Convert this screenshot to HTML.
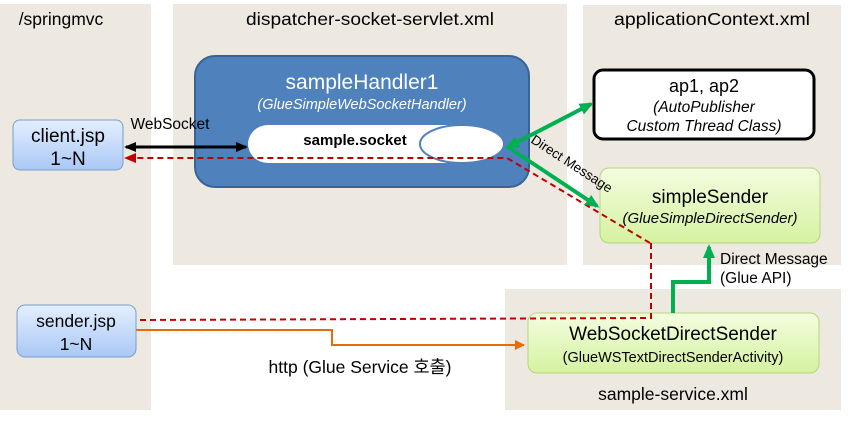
<!DOCTYPE html>
<html><head><meta charset="utf-8"><style>
body{margin:0;background:#fff;width:854px;height:419px;overflow:hidden}
svg text{font-family:"Liberation Sans","Noto Sans CJK KR",sans-serif}
</style></head><body>
<svg width="854" height="419" viewBox="0 0 854 419" xmlns="http://www.w3.org/2000/svg">
<defs>
<linearGradient id="bl" x1="0" y1="0" x2="0" y2="1"><stop offset="0" stop-color="#e4efff"/><stop offset="1" stop-color="#a9c8f5"/></linearGradient>
<linearGradient id="gr" x1="0" y1="0" x2="0" y2="1"><stop offset="0" stop-color="#f3fde0"/><stop offset="1" stop-color="#d5f2a0"/></linearGradient>
<marker id="ab" markerWidth="12" markerHeight="10" refX="10" refY="5" orient="auto-start-reverse" markerUnits="userSpaceOnUse"><path d="M0,0 L12,5 L0,10 z" fill="#000"/></marker>
<marker id="ag" markerWidth="14" markerHeight="12" refX="11" refY="6" orient="auto-start-reverse" markerUnits="userSpaceOnUse"><path d="M0,0 L14,6 L0,12 z" fill="#00b050"/></marker>
<marker id="ar" markerWidth="12" markerHeight="10" refX="10" refY="5" orient="auto" markerUnits="userSpaceOnUse"><path d="M0,0 L12,5 L0,10 z" fill="#c00000"/></marker>
<marker id="ao" markerWidth="10" markerHeight="10" refX="9" refY="5" orient="auto" markerUnits="userSpaceOnUse"><path d="M0,0 L10,5 L0,10 z" fill="#e46c0a"/></marker>
</defs>
<rect x="0" y="4" width="151" height="406" fill="#ede9e0"/>
<rect x="173" y="4" width="394" height="261" fill="#ede9e0"/>
<rect x="583" y="5" width="258" height="260" fill="#ede9e0"/>
<rect x="505" y="289" width="336" height="121" fill="#ede9e0"/>
<text x="61" y="25" font-size="17.5" text-anchor="middle">/springmvc</text>
<text x="370" y="25" font-size="17.5" text-anchor="middle" textLength="248" lengthAdjust="spacingAndGlyphs">dispatcher-socket-servlet.xml</text>
<text x="712" y="25" font-size="17.5" text-anchor="middle" textLength="196" lengthAdjust="spacingAndGlyphs">applicationContext.xml</text>
<text x="673" y="400" font-size="17.5" text-anchor="middle">sample-service.xml</text>

<rect x="195" y="56" width="334" height="131" rx="20" fill="#4f81bd" stroke="#3a6395" stroke-width="2"/>
<text x="362" y="89" font-size="21" fill="#fff" text-anchor="middle">sampleHandler1</text>
<text x="362" y="109" font-size="14.5" fill="#fff" text-anchor="middle" font-style="italic">(GlueSimpleWebSocketHandler)</text>
<path d="M268,125 H450 V163 H268 A20,19 0 0 1 268,125 z" fill="#fff"/>
<ellipse cx="462" cy="144" rx="42" ry="19" fill="#fff" stroke="#4f81bd" stroke-width="2"/>
<text x="355" y="145" font-size="15" font-weight="bold" text-anchor="middle">sample.socket</text>

<rect x="13" y="120" width="110" height="50" rx="7" fill="url(#bl)" stroke="#7a9cd0"/>
<text x="68" y="142" font-size="19" text-anchor="middle">client.jsp</text>
<text x="68" y="165" font-size="19" text-anchor="middle">1~N</text>
<rect x="17" y="305" width="119" height="52" rx="8" fill="url(#bl)" stroke="#7a9cd0"/>
<text x="76" y="327" font-size="17.5" text-anchor="middle">sender.jsp</text>
<text x="76" y="350" font-size="17.5" text-anchor="middle">1~N</text>

<rect x="594" y="70" width="220" height="69" rx="9" fill="#fff" stroke="#000" stroke-width="3"/>
<text x="704" y="92" font-size="18" text-anchor="middle">ap1, ap2</text>
<text x="704" y="112" font-size="15.5" text-anchor="middle" font-style="italic">(AutoPublisher</text>
<text x="704" y="131" font-size="15.5" text-anchor="middle" font-style="italic">Custom Thread Class)</text>

<rect x="600" y="168" width="220" height="75" rx="9" fill="url(#gr)" stroke="#b5d67a"/>
<text x="710" y="203" font-size="19" text-anchor="middle">simpleSender</text>
<text x="710" y="223" font-size="15" text-anchor="middle" font-style="italic">(GlueSimpleDirectSender)</text>

<rect x="528" y="313" width="291" height="60" rx="9" fill="url(#gr)" stroke="#b5d67a"/>
<text x="673" y="340" font-size="19" text-anchor="middle">WebSocketDirectSender</text>
<text x="673" y="362" font-size="14.5" text-anchor="middle">(GlueWSTextDirectSenderActivity)</text>

<line x1="126" y1="147" x2="246" y2="147" stroke="#000" stroke-width="3" marker-start="url(#ab)" marker-end="url(#ab)"/>
<text x="170" y="129" font-size="15.5" text-anchor="middle">WebSocket</text>
<polyline points="650,243 507,158 126,158" fill="none" stroke="#c00000" stroke-width="2" stroke-dasharray="6,4" marker-end="url(#ar)"/>
<polyline points="651,243 651,318 136,320" fill="none" stroke="#c00000" stroke-width="2" stroke-dasharray="6,4"/>
<polyline points="136,330 332,330 332,345 524,345" fill="none" stroke="#e46c0a" stroke-width="2" marker-end="url(#ao)"/>
<text x="360" y="373" font-size="17.5" text-anchor="middle">http (Glue Service 호출)</text>
<line x1="508" y1="147" x2="591" y2="104" stroke="#00b050" stroke-width="4" marker-start="url(#ag)" marker-end="url(#ag)"/>
<line x1="508" y1="147" x2="597" y2="206" stroke="#00b050" stroke-width="4" marker-end="url(#ag)"/>
<text x="530" y="142" font-size="13.5" transform="rotate(33 530 142)">Direct Message</text>
<polyline points="673,313 673,282 709,282 709,247" fill="none" stroke="#00b050" stroke-width="4" marker-end="url(#ag)"/>
<text x="720" y="264" font-size="15.5">Direct Message</text>
<text x="720" y="283" font-size="15.5">(Glue API)</text>
</svg>
</body></html>
